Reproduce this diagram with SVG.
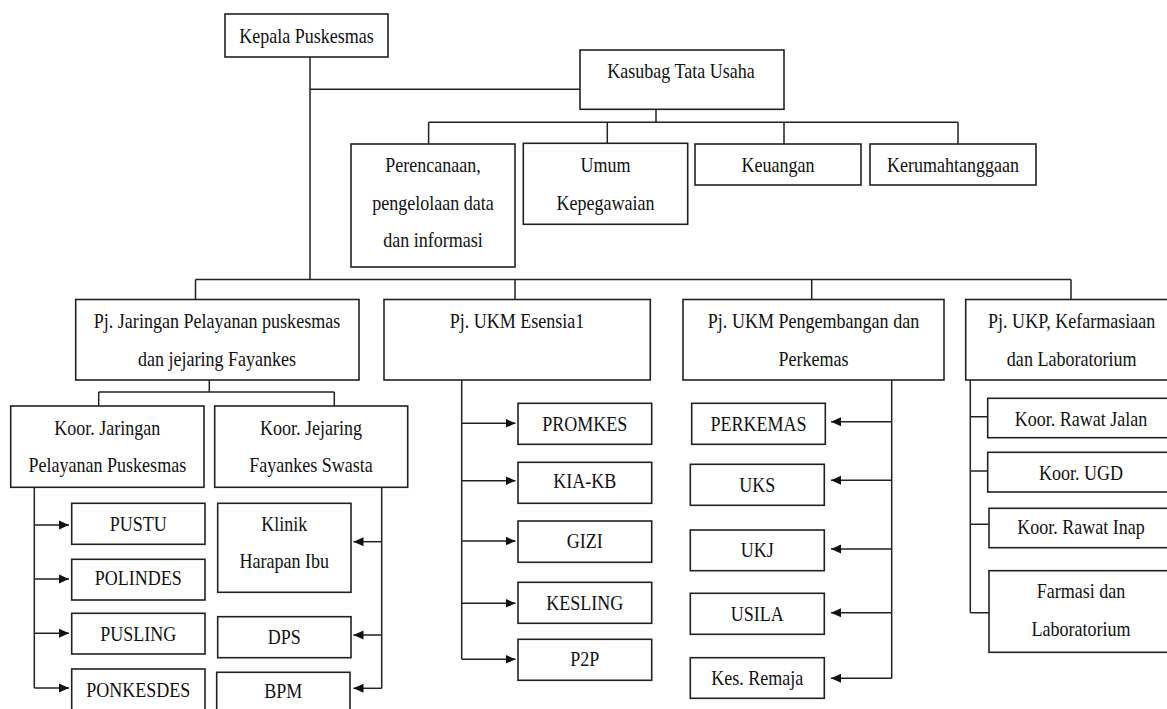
<svg xmlns="http://www.w3.org/2000/svg" width="1167" height="709" viewBox="0 0 1167 709">
<style>
.b{fill:#fff;stroke:#222;stroke-width:1.6}
.c{fill:none;stroke:#222;stroke-width:1.5}
.t{font-size:22px;fill:#111;text-anchor:middle}
</style>
<defs>
<marker id="ah" markerUnits="userSpaceOnUse" markerWidth="12" markerHeight="12" refX="10" refY="6" orient="auto">
<path d="M0,1.5 L10,6 L0,10.5 Z" fill="#111"/>
</marker>
</defs>
<rect width="1167" height="709" fill="#fff"/>
<g id="connectors" class="c">
<path d="M310,57 V279.5 M310,89.3 H580"/>
<path d="M195.5,279.5 H1071 M195.5,279.5 V299.5 M515,279.5 V299.5 M811.7,279.5 V299.5 M1071,279.5 V299.5"/>
<path d="M656,109.3 V122.3 M428.6,122.3 H958 M428.6,122.3 V144 M607.3,122.3 V143.3 M784,122.3 V144 M958,122.3 V144"/>
<path d="M209.3,380 V392 M98.7,392 H334.3 M98.7,392 V406 M334.3,392 V406"/>
<path d="M34.3,487.3 V688"/>
<path d="M34.3,525 H69" marker-end="url(#ah)"/>
<path d="M34.3,579 H69" marker-end="url(#ah)"/>
<path d="M34.3,633.3 H69" marker-end="url(#ah)"/>
<path d="M34.3,688 H69" marker-end="url(#ah)"/>
<path d="M381.7,487.3 V688.3"/>
<path d="M381.7,541.7 H353.5" marker-end="url(#ah)"/>
<path d="M381.7,635 H353.5" marker-end="url(#ah)"/>
<path d="M381.7,688.3 H353.5" marker-end="url(#ah)"/>
<path d="M461.7,380 V659.3"/>
<path d="M461.7,423.3 H515.5" marker-end="url(#ah)"/>
<path d="M461.7,480.7 H515.5" marker-end="url(#ah)"/>
<path d="M461.7,541 H515.5" marker-end="url(#ah)"/>
<path d="M461.7,603.3 H515.5" marker-end="url(#ah)"/>
<path d="M461.7,659.3 H515.5" marker-end="url(#ah)"/>
<path d="M891.7,380 V678.3"/>
<path d="M891.7,421.7 H831" marker-end="url(#ah)"/>
<path d="M891.7,480.3 H831" marker-end="url(#ah)"/>
<path d="M891.7,549 H831" marker-end="url(#ah)"/>
<path d="M891.7,612.7 H831" marker-end="url(#ah)"/>
<path d="M891.7,678.3 H831" marker-end="url(#ah)"/>
<path d="M970.3,380 V612.7 M970.3,416.7 H988 M970.3,471 H988 M970.3,524.3 H989 M970.3,612.7 H989"/>
</g>
<g font-family="Liberation Serif, Times New Roman, serif">
<g id="kepala"><rect class="b" x="225" y="14" width="163" height="43"/><text class="t" transform="translate(306.5,42.5) scale(0.82,1)">Kepala Puskesmas</text></g>
<g id="kasubag"><rect class="b" x="580" y="50" width="204" height="59.3"/><text class="t" transform="translate(681,78) scale(0.82,1)">Kasubag Tata Usaha</text></g>
<g id="perencanaan"><rect class="b" x="351" y="144" width="164" height="123"/><text class="t" transform="translate(433,172) scale(0.82,1)">Perencanaan,</text><text class="t" transform="translate(433,209.5) scale(0.82,1)">pengelolaan data</text><text class="t" transform="translate(433,247) scale(0.82,1)">dan informasi</text></g>
<g id="umum"><rect class="b" x="523.3" y="143.3" width="164.4" height="81"/><text class="t" transform="translate(605.5,172) scale(0.82,1)">Umum</text><text class="t" transform="translate(605.5,210) scale(0.82,1)">Kepegawaian</text></g>
<g id="keuangan"><rect class="b" x="695" y="144" width="166" height="41"/><text class="t" transform="translate(778,172) scale(0.82,1)">Keuangan</text></g>
<g id="kerumahtanggaan"><rect class="b" x="870" y="144" width="166" height="41"/><text class="t" transform="translate(953,172) scale(0.82,1)">Kerumahtanggaan</text></g>
<g id="pj-jaringan"><rect class="b" x="75.7" y="299.5" width="283.3" height="80.5"/><text class="t" transform="translate(217,328.3) scale(0.82,1)">Pj. Jaringan Pelayanan puskesmas</text><text class="t" transform="translate(217,366) scale(0.82,1)">dan jejaring Fayankes</text></g>
<g id="pj-ukm-esensial"><rect class="b" x="384" y="299.5" width="266.3" height="80.5"/><text class="t" transform="translate(517,328.3) scale(0.82,1)">Pj. UKM Esensia1</text></g>
<g id="pj-ukm-pengembangan"><rect class="b" x="683" y="299.5" width="261" height="80.5"/><text class="t" transform="translate(813.5,328.3) scale(0.82,1)">Pj. UKM Pengembangan dan</text><text class="t" transform="translate(813.5,365.5) scale(0.82,1)">Perkemas</text></g>
<g id="pj-ukp"><rect class="b" x="965.7" y="299.5" width="212" height="80.5"/><text class="t" transform="translate(1071.7,328.3) scale(0.82,1)">Pj. UKP, Kefarmasiaan</text><text class="t" transform="translate(1071.7,365.5) scale(0.82,1)">dan Laboratorium</text></g>
<g id="koor-jaringan"><rect class="b" x="10.7" y="406" width="193.3" height="81.3"/><text class="t" transform="translate(107.3,435) scale(0.82,1)">Koor. Jaringan</text><text class="t" transform="translate(107.3,471.7) scale(0.82,1)">Pelayanan Puskesmas</text></g>
<g id="koor-jejaring"><rect class="b" x="214.7" y="406" width="193" height="81.3"/><text class="t" transform="translate(311,435) scale(0.82,1)">Koor. Jejaring</text><text class="t" transform="translate(311,471.7) scale(0.82,1)">Fayankes Swasta</text></g>
<g id="pustu"><rect class="b" x="71.7" y="503.3" width="133.3" height="41"/><text class="t" transform="translate(138.3,530.7) scale(0.82,1)">PUSTU</text></g>
<g id="polindes"><rect class="b" x="71.7" y="559.3" width="133.3" height="40.7"/><text class="t" transform="translate(138.3,585) scale(0.82,1)">POLINDES</text></g>
<g id="pusling"><rect class="b" x="71.7" y="613.3" width="133.3" height="40.7"/><text class="t" transform="translate(138.3,640.7) scale(0.82,1)">PUSLING</text></g>
<g id="ponkesdes"><rect class="b" x="71.7" y="669" width="133.3" height="50"/><text class="t" transform="translate(138.3,696.7) scale(0.82,1)">PONKESDES</text></g>
<g id="klinik"><rect class="b" x="217.7" y="503.3" width="133.3" height="89"/><text class="t" transform="translate(284.3,530.7) scale(0.82,1)">Klinik</text><text class="t" transform="translate(284.3,568.3) scale(0.82,1)">Harapan Ibu</text></g>
<g id="dps"><rect class="b" x="217.7" y="616.7" width="133.3" height="41"/><text class="t" transform="translate(284.3,644) scale(0.82,1)">DPS</text></g>
<g id="bpm"><rect class="b" x="216.7" y="672.3" width="133.3" height="50"/><text class="t" transform="translate(283.3,698.3) scale(0.82,1)">BPM</text></g>
<g id="promkes"><rect class="b" x="518" y="403.3" width="133.7" height="41"/><text class="t" transform="translate(584.8,430.7) scale(0.82,1)">PROMKES</text></g>
<g id="kia-kb"><rect class="b" x="518" y="462.3" width="133.7" height="41"/><text class="t" transform="translate(584.8,488.3) scale(0.82,1)">KIA-KB</text></g>
<g id="gizi"><rect class="b" x="518" y="521" width="133.7" height="41.3"/><text class="t" transform="translate(584.8,547.7) scale(0.82,1)">GIZI</text></g>
<g id="kesling"><rect class="b" x="518" y="582.3" width="133.7" height="41"/><text class="t" transform="translate(584.8,610) scale(0.82,1)">KESLING</text></g>
<g id="p2p"><rect class="b" x="518" y="639.3" width="133.7" height="41"/><text class="t" transform="translate(584.8,665.7) scale(0.82,1)">P2P</text></g>
<g id="perkemas"><rect class="b" x="691.7" y="403.3" width="133.6" height="41"/><text class="t" transform="translate(758.5,430.7) scale(0.82,1)">PERKEMAS</text></g>
<g id="uks"><rect class="b" x="690.3" y="464.3" width="134" height="41"/><text class="t" transform="translate(757.3,491.7) scale(0.82,1)">UKS</text></g>
<g id="ukj"><rect class="b" x="690.3" y="530" width="134" height="40.7"/><text class="t" transform="translate(757.3,556.7) scale(0.82,1)">UKJ</text></g>
<g id="usila"><rect class="b" x="690.3" y="593.3" width="134" height="41"/><text class="t" transform="translate(757.3,620.7) scale(0.82,1)">USILA</text></g>
<g id="kes-remaja"><rect class="b" x="690.3" y="657.7" width="134" height="40.6"/><text class="t" transform="translate(757.3,685) scale(0.82,1)">Kes. Remaja</text></g>
<g id="rawat-jalan"><rect class="b" x="987.7" y="398.3" width="190" height="39.4"/><text class="t" transform="translate(1081,426) scale(0.82,1)">Koor. Rawat Jalan</text></g>
<g id="ugd"><rect class="b" x="987.7" y="452.3" width="190" height="39.7"/><text class="t" transform="translate(1081,480) scale(0.82,1)">Koor. UGD</text></g>
<g id="rawat-inap"><rect class="b" x="989" y="508.3" width="190" height="39.4"/><text class="t" transform="translate(1081,534.3) scale(0.82,1)">Koor. Rawat Inap</text></g>
<g id="farmasi"><rect class="b" x="989" y="570.7" width="190" height="81.6"/><text class="t" transform="translate(1081,598.3) scale(0.82,1)">Farmasi dan</text><text class="t" transform="translate(1081,636) scale(0.82,1)">Laboratorium</text></g>
</g>
</svg>
